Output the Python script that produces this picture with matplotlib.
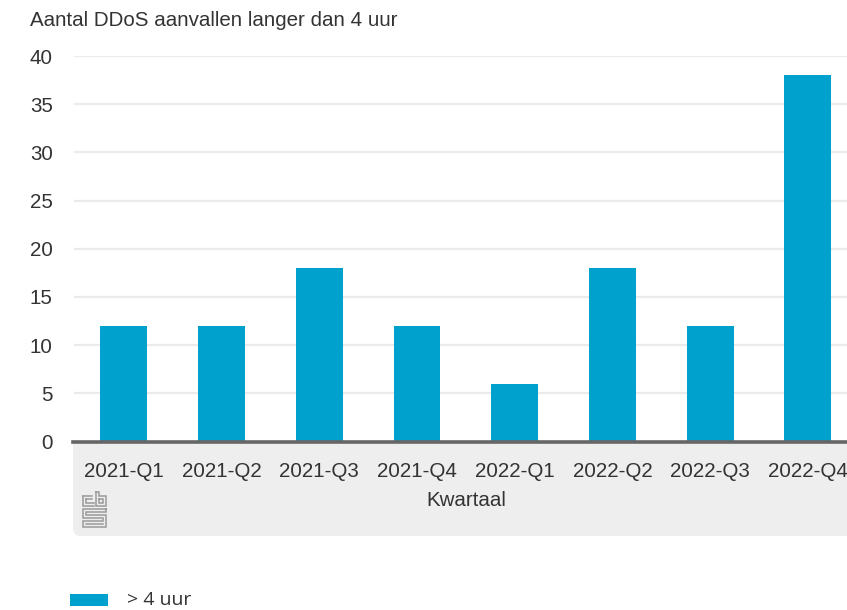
import matplotlib
matplotlib.use("Agg")
import matplotlib.pyplot as plt
from matplotlib.patches import FancyBboxPatch, Rectangle

quarters = ["2021-Q1", "2021-Q2", "2021-Q3", "2021-Q4",
            "2022-Q1", "2022-Q2", "2022-Q3", "2022-Q4"]
attacks = [12, 12, 18, 12, 6, 18, 12, 38]
y_ticks = [0, 5, 10, 15, 20, 25, 30, 35, 40]

W, H = 847, 610
BAR = "#00a1cd"
TXT = "#333333"
FS = 14.8
plt.rcParams["font.family"] = ["Liberation Sans", "DejaVu Sans"]

fig = plt.figure(figsize=(W / 100, H / 100), dpi=100)

# background overlay in pixel coordinates (panel, logo)
bg = fig.add_axes([0, 0, 1, 1], zorder=0)
bg.set_xlim(0, W)
bg.set_ylim(H, 0)
bg.axis("off")
panel = FancyBboxPatch((73 + 8, 441 + 8), W + 20, 95 - 16,
                       boxstyle="round,pad=8", fc="#eeeeee", ec="none")
bg.add_patch(panel)
bg.add_patch(Rectangle((73, 441), W, 20, fc="#eeeeee", ec="none"))

# CBS logo drawn with simple strokes
lc = "#9a9a9a"
lw = 1.1
segs = [
    # 'c'
    [(83, 496), (83, 506), (94, 506)], [(83, 496), (92, 496)],
    [(86, 499), (86, 503), (94, 503)], [(86, 499), (92, 499)],
    # 'b'
    [(96, 492), (96, 506), (106, 506), (106, 496), (99, 496), (99, 492), (96, 492)],
    [(99, 499), (103, 499), (103, 503), (99, 503), (99, 499)],
    # 's'
    [(106, 509), (83, 509), (83, 518), (103, 518), (103, 521), (83, 521),
     (83, 527), (106, 527), (106, 515), (86, 515), (86, 512), (106, 512), (106, 509)],
    [(86, 524), (103, 524)],
]
for s in segs:
    xs, ys = zip(*s)
    bg.plot(xs, ys, color=lc, lw=lw, solid_joinstyle="miter")

ax = fig.add_axes([73 / W, 1 - 441.5 / H, 1 - 73 / W, (441.5 - 56) / H], zorder=1)
ax.patch.set_alpha(0)

x = list(range(len(quarters)))
ax.bar(x, attacks, width=0.48, color=BAR, zorder=2)
ax.set_xlim(-0.52, 7.40)
ax.set_ylim(0, 40)
ax.set_yticks(y_ticks)
ax.set_yticklabels([str(v) for v in y_ticks], fontsize=FS, color=TXT)
ax.set_xticks(x)
ax.set_xticklabels(quarters, fontsize=FS, color=TXT)
ax.tick_params(axis="both", length=0)
ax.tick_params(axis="y", pad=14.5)
ax.tick_params(axis="x", pad=15)
for v in y_ticks[1:]:
    ax.axhline(v, xmin=2 / 774, color="#ebebeb", lw=1.6, zorder=0)
for side in ["top", "right", "left"]:
    ax.spines[side].set_visible(False)
ax.spines["bottom"].set_color("#666666")
ax.spines["bottom"].set_linewidth(2.6)
ax.spines["bottom"].set_zorder(3)

fig.text(466 / W, 1 - 500 / H, "Kwartaal", fontsize=FS, color=TXT,
         ha="center", va="center")
fig.text(30 / W, 1 - 20 / H, "Aantal DDoS aanvallen langer dan 4 uur",
         fontsize=FS, color=TXT, ha="left", va="center")

# legend
bg.add_patch(Rectangle((70, 594), 38, 12, fc=BAR, ec="none"))
bg.text(127, 600, "> 4 uur", fontsize=14, color=TXT, ha="left", va="center",
        family=["Open Sans", "DejaVu Sans"])

fig.savefig("out.png", dpi=100)
